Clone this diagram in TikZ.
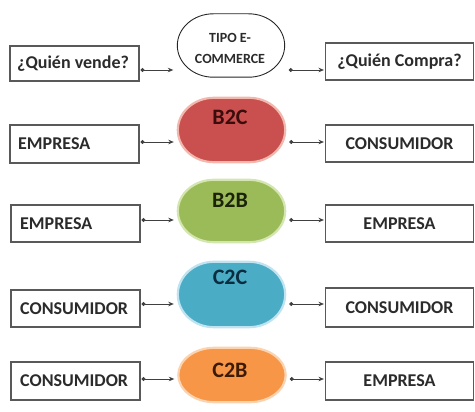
\documentclass[tikz,border=0pt]{standalone}
\usepackage{fontspec}
\setmainfont{Carlito}
\usetikzlibrary{arrows.meta,calc}
\definecolor{txtgray}{HTML}{2B2B2B}
\definecolor{redfill}{HTML}{C9504F}
\definecolor{redbord}{HTML}{F2B8AE}
\definecolor{redtxt}{HTML}{3A0C0C}
\definecolor{grnfill}{HTML}{9BBB59}
\definecolor{grnbord}{HTML}{D4E6B0}
\definecolor{grntxt}{HTML}{1C2408}
\definecolor{blufill}{HTML}{4BACC6}
\definecolor{blubord}{HTML}{BFE3F0}
\definecolor{blutxt}{HTML}{0C2C40}
\definecolor{orgfill}{HTML}{F79646}
\definecolor{orgbord}{HTML}{FBD3B0}
\definecolor{orgtxt}{HTML}{3D1A04}
\tikzset{
  boxtext/.style={inner sep=0pt, text=txtgray, font=\bfseries\fontsize{18}{20}\selectfont},
  lbox/.style={draw=black!65, line width=1.1pt, fill=white, minimum width=129pt, boxtext},
  rbox/.style={draw=black!65, line width=1.1pt, fill=white, minimum width=148pt, boxtext},
  pill/.style={rectangle, minimum width=107pt, inner sep=0pt},
  conn/.style={draw=black!75, line width=0.8pt, {Circle[length=4pt]}-{Stealth[length=5.5pt,width=4.5pt]}},
  lbl/.style={inner sep=0pt, font=\bfseries\fontsize{22}{24}\selectfont},
}
% #1 node name, #2 path options ; ends are half-ellipses 36pt wide
\newcommand\pillpath[2]{%
  \path[#2] let \p1=(#1.south west), \p2=(#1.north east),
      \n1={0.5*(\y1+\y2)}, \n2={0.5*(\y2-\y1)} in
    (\x1,\n1) .. controls (\x1,{\n1+0.55*\n2}) and ({\x1+16.2pt},\y2) .. ({\x1+36pt},\y2)
    -- ({\x2-36pt},\y2) .. controls ({\x2-16.2pt},\y2) and (\x2,{\n1+0.55*\n2}) .. (\x2,\n1)
    .. controls (\x2,{\n1-0.55*\n2}) and ({\x2-16.2pt},\y1) .. ({\x2-36pt},\y1)
    -- ({\x1+36pt},\y1) .. controls ({\x1+16.2pt},\y1) and (\x1,{\n1-0.55*\n2}) .. cycle;}
\begin{document}
\begin{tikzpicture}[x=1pt,y=-1pt]
\useasboundingbox (0,0) rectangle (475,412);
% left boxes
\node[lbox, minimum height=35pt] (l1) at (74.5,63.5) {};
\node[boxtext, anchor=west] (l1t) at (17,63.5) {¿Quién vende?};
\node[lbox, minimum height=38pt] (l2) at (74.5,144) {};
\node[boxtext, anchor=west] (l2t) at (18,144) {EMPRESA};
\node[lbox, minimum height=37pt] (l3) at (75.5,223.5) {};
\node[boxtext, anchor=west] (l3t) at (20,223.5) {EMPRESA};
\node[lbox, minimum height=37pt] (l4) at (75.5,308.5) {};
\node[boxtext, anchor=west] (l4t) at (20,308.5) {CONSUMIDOR};
\node[lbox, minimum height=38pt] (l5) at (75.5,381) {};
\node[boxtext, anchor=west] (l5t) at (20,381) {CONSUMIDOR};
% right boxes
\node[rbox, minimum height=37pt] (r1) at (399.5,61.5) {¿Quién Compra?};
\node[rbox, minimum height=37pt] (r2) at (399.5,143.5) {CONSUMIDOR};
\node[rbox, minimum height=37pt] (r3) at (399.5,223.5) {EMPRESA};
\node[rbox, minimum height=39pt] (r4) at (399.5,307.5) {CONSUMIDOR};
\node[rbox, minimum height=38pt] (r5) at (399.5,381) {EMPRESA};
% pills (frames)
\node[pill, minimum height=63pt] (e1) at (231,45.5) {};
\node[pill, minimum height=64pt] (e2) at (231.5,130) {};
\node[pill, minimum height=62pt] (e3) at (231.5,211) {};
\node[pill, minimum height=65pt] (e4) at (231.5,294.5) {};
\node[pill, minimum height=54pt] (e5) at (232,375) {};
\pillpath{e1}{draw=black!85, line width=0.9pt, fill=white}
\pillpath{e2}{draw=redbord, line width=2.2pt, fill=redfill}
\pillpath{e3}{draw=grnbord, line width=2.2pt, fill=grnfill}
\pillpath{e4}{draw=blubord, line width=2.2pt, fill=blufill}
\pillpath{e5}{draw=orgbord, line width=2.2pt, fill=orgfill}
\node[align=center, inner sep=0pt, text=txtgray, font=\bfseries\fontsize{14}{21}\selectfont] (e1t) at (230,48) {TIPO E-\\COMMERCE};
\node[lbl, text=redtxt] (e2t) at (230,117) {B2C};
\node[lbl, text=grntxt] (e3t) at (230,200) {B2B};
\node[lbl, text=blutxt] (e4t) at (230,277) {C2C};
\node[lbl, text=orgtxt] (e5t) at (230,370) {C2B};
% arrow rows
\coordinate (y1) at (0,70);
\coordinate (y2) at (0,142);
\coordinate (y3) at (0,220);
\coordinate (y4) at (0,304);
\coordinate (y5) at (0,379);
\foreach \i in {1,...,5} {
  \draw[conn, shorten <=1pt, shorten >=4pt] (l\i.east |- y\i) -- (e\i.west |- y\i);
  \draw[conn, shorten <=4pt, shorten >=1pt] (e\i.east |- y\i) -- (r\i.west |- y\i);
}
\end{tikzpicture}
\end{document}
